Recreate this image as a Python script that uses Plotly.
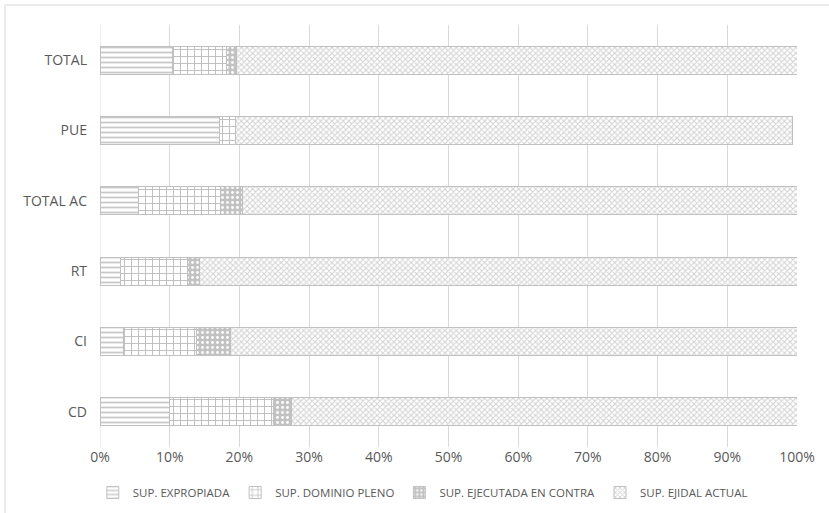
import plotly.graph_objects as go

categories = ["CD", "CI", "RT", "TOTAL AC", "PUE", "TOTAL"]
expropiada = [10.0, 3.3, 2.9, 5.5, 17.1, 10.4]
dominio_pleno = [14.9, 10.6, 9.7, 11.8, 2.3, 7.8]
ejecutada = [2.6, 4.8, 1.7, 3.2, 0.0, 1.4]
ejidal = [72.5, 81.3, 85.7, 79.5, 80.0, 80.4]

series_names = ["SUP. EXPROPIADA", "SUP. DOMINIO PLENO", "SUP. EJECUTADA EN CONTRA", "SUP. EJIDAL ACTUAL"]
series_values = [expropiada, dominio_pleno, ejecutada, ejidal]
patterns = [
    dict(shape="-", fgcolor="#c8c8c8", bgcolor="#ffffff", size=5, solidity=0.35, fillmode="replace"),
    dict(shape="+", fgcolor="#bdbdbd", bgcolor="#ffffff", size=7, solidity=0.25, fillmode="replace"),
    dict(shape=".", fgcolor="#ffffff", bgcolor="#c2c2c2", size=5, solidity=0.25, fillmode="replace"),
    dict(shape="x", fgcolor="#d2d2d2", bgcolor="#ffffff", size=4, solidity=0.45, fillmode="replace"),
]

fig = go.Figure()
for name, vals, pat in zip(series_names, series_values, patterns):
    fig.add_trace(go.Bar(
        y=categories, x=[v / 100 for v in vals], name=name, orientation="h",
        marker=dict(color="#ffffff", pattern=pat, line=dict(color="#c0c0c0", width=1)),
        width=0.4,
    ))

fig.update_layout(
    barmode="stack",
    width=829, height=513,
    margin=dict(l=100, r=32, t=25, b=66, autoexpand=False),
    paper_bgcolor="white", plot_bgcolor="white",
    font=dict(family="Open Sans, Liberation Sans, sans-serif", size=14, color="#595959"),
    showlegend=True,
    legend=dict(orientation="h", xref="container", yref="container", x=0.51, xanchor="center",
                y=0.04, yanchor="middle",
                font=dict(size=11.5, color="#595959"), itemwidth=30, traceorder="normal",
                tracegroupgap=0),
    xaxis=dict(range=[0, 1.0], tickformat=".0%", dtick=0.1, showgrid=True, gridcolor="#d9d9d9",
               gridwidth=1, zeroline=False, showline=False, ticks="", fixedrange=True,
               tickfont=dict(size=14)),
    yaxis=dict(showgrid=False, zeroline=False, showline=False, ticks="", ticklabelstandoff=12,
               tickfont=dict(size=14),
               categoryorder="array", categoryarray=categories),
    shapes=[dict(type="rect", xref="paper", yref="paper", x0=-0.1363, x1=1.2, y0=-0.3, y1=1.0474,
                 line=dict(color="#d9d9d9", width=1), fillcolor="rgba(0,0,0,0)", layer="below")],
)
fig.add_shape(type="line", xref="x", yref="paper", x0=0, x1=0, y0=0, y1=1,
              line=dict(color="#d9d9d9", width=1), layer="below")

fig.write_html("out.html")
